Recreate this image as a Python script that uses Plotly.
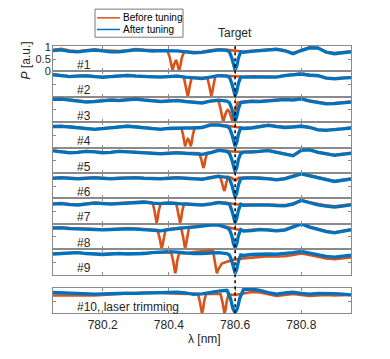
import plotly.graph_objects as go

# ---------------- data ----------------
WAVELENGTH = [780.05, 780.075, 780.10, 780.125, 780.15, 780.175, 780.20, 780.225, 780.25, 780.275,
              780.30, 780.325, 780.35, 780.375, 780.40, 780.425, 780.45, 780.475, 780.50, 780.525,
              780.55, 780.575, 780.60, 780.625, 780.65, 780.675, 780.70, 780.725, 780.75, 780.775,
              780.80, 780.825, 780.85, 780.875, 780.90, 780.925, 780.95]

LABELS = ["#1", "#2", "#3", "#4", "#5", "#6", "#7", "#8", "#9", "#10, laser trimming"]
TARGET = 780.6
X_TICKS = [780.2, 780.4, 780.6, 780.8]
Y_TICKS = [0, 0.5, 1]

# "After tuning" baselines (blue)
AFTER_1 = [0.85, 0.88, 0.82, 0.80, 0.84, 0.87, 0.84, 0.80, 0.80, 0.84, 0.88, 0.86, 0.83, 0.85, 0.86, 0.84, 0.80, 0.76, 0.78,
           0.84, 0.88, 0.86, 0.82, 0.78, 0.82, 0.85, 0.87, 0.90, 0.84, 0.72, 0.85, 0.96, 0.95, 0.78, 0.72, 0.76, 0.80]
AFTER_2 = [0.90, 0.86, 0.82, 0.84, 0.85, 0.82, 0.79, 0.82, 0.86, 0.87, 0.84, 0.81, 0.81, 0.80, 0.82, 0.84, 0.80, 0.76, 0.74,
           0.80, 0.86, 0.84, 0.80, 0.80, 0.82, 0.82, 0.80, 0.80, 0.86, 0.88, 0.93, 0.88, 0.86, 0.76, 0.73, 0.76, 0.78]
AFTER_3 = [0.93, 0.94, 0.90, 0.86, 0.82, 0.84, 0.88, 0.90, 0.88, 0.92, 0.94, 0.90, 0.86, 0.84, 0.86, 0.88, 0.84, 0.80, 0.78,
           0.86, 0.90, 0.86, 0.80, 0.82, 0.85, 0.84, 0.86, 0.90, 0.92, 0.90, 0.95, 0.86, 0.82, 0.75, 0.76, 0.80, 0.82]
AFTER_4 = [0.86, 0.87, 0.84, 0.80, 0.76, 0.74, 0.77, 0.80, 0.84, 0.87, 0.84, 0.80, 0.77, 0.74, 0.78, 0.80, 0.80, 0.80, 0.82,
           0.92, 0.92, 0.87, 0.82, 0.78, 0.80, 0.86, 0.91, 0.86, 0.82, 0.84, 0.87, 0.82, 0.72, 0.70, 0.72, 0.76, 0.80]
AFTER_5 = [0.90, 0.86, 0.82, 0.84, 0.88, 0.86, 0.82, 0.84, 0.88, 0.86, 0.84, 0.82, 0.80, 0.78, 0.80, 0.82, 0.80, 0.78, 0.76,
           0.82, 0.92, 0.88, 0.85, 0.85, 0.85, 0.88, 0.91, 0.84, 0.76, 0.70, 0.92, 0.94, 0.84, 0.78, 0.72, 0.76, 0.80]
AFTER_6 = [0.82, 0.84, 0.82, 0.80, 0.82, 0.84, 0.82, 0.80, 0.82, 0.84, 0.84, 0.82, 0.80, 0.80, 0.82, 0.84, 0.82, 0.80, 0.78,
           0.84, 0.90, 0.86, 0.82, 0.83, 0.84, 0.83, 0.80, 0.76, 0.80, 0.90, 1.00, 0.92, 0.84, 0.76, 0.69, 0.74, 0.79]
AFTER_7 = [0.80, 0.82, 0.78, 0.76, 0.80, 0.84, 0.82, 0.80, 0.82, 0.84, 0.86, 0.88, 0.84, 0.82, 0.84, 0.82, 0.80, 0.78, 0.76,
           0.80, 0.86, 0.82, 0.78, 0.75, 0.76, 0.77, 0.76, 0.74, 0.73, 0.80, 0.95, 0.86, 0.77, 0.72, 0.68, 0.72, 0.77]
AFTER_8 = [0.86, 0.87, 0.84, 0.82, 0.80, 0.80, 0.79, 0.80, 0.82, 0.83, 0.82, 0.80, 0.78, 0.75, 0.80, 0.85, 0.88, 0.90, 0.94,
           0.98, 0.98, 0.88, 0.80, 0.74, 0.76, 0.80, 0.78, 0.75, 0.78, 0.90, 1.03, 0.90, 0.80, 0.72, 0.67, 0.72, 0.79]
AFTER_9 = [0.84, 0.86, 0.88, 0.90, 0.86, 0.84, 0.82, 0.84, 0.86, 0.84, 0.84, 0.86, 0.90, 0.92, 0.94, 0.92, 0.88, 0.86, 0.86,
           0.88, 0.90, 0.86, 0.80, 0.78, 0.82, 0.84, 0.84, 0.83, 0.85, 0.90, 0.95, 0.88, 0.80, 0.74, 0.71, 0.75, 0.79]
AFTER_10 = [0.86, 0.84, 0.82, 0.80, 0.80, 0.79, 0.80, 0.82, 0.84, 0.83, 0.82, 0.83, 0.84, 0.84, 0.86, 0.87, 0.84, 0.78, 0.80,
            0.87, 0.92, 0.95, 0.90, 0.98, 1.00, 0.95, 0.86, 0.79, 0.84, 0.87, 0.82, 0.79, 0.82, 0.83, 0.81, 0.79, 0.76]

# "Before tuning" baselines (orange)
BEFORE_1 = [0.88, 0.92, 0.85, 0.82, 0.86, 0.90, 0.86, 0.83, 0.83, 0.86, 0.91, 0.88, 0.86, 0.87, 0.88, 0.86, 0.82, 0.79, 0.80,
            0.86, 0.90, 0.88, 0.85, 0.81, 0.84, 0.87, 0.89, 0.92, 0.86, 0.75, 0.87, 0.98, 0.97, 0.80, 0.75, 0.78, 0.82]
BEFORE_2 = [0.92, 0.88, 0.84, 0.86, 0.88, 0.84, 0.82, 0.84, 0.88, 0.89, 0.86, 0.84, 0.83, 0.82, 0.84, 0.86, 0.82, 0.79, 0.77,
            0.82, 0.88, 0.86, 0.83, 0.82, 0.84, 0.84, 0.82, 0.82, 0.88, 0.90, 0.95, 0.90, 0.88, 0.78, 0.75, 0.78, 0.80]
BEFORE_3 = [0.95, 0.96, 0.92, 0.88, 0.84, 0.86, 0.90, 0.92, 0.90, 0.94, 0.96, 0.92, 0.88, 0.86, 0.88, 0.90, 0.86, 0.82, 0.80,
            0.86, 0.90, 0.84, 0.78, 0.84, 0.87, 0.86, 0.88, 0.92, 0.94, 0.92, 0.97, 0.88, 0.84, 0.77, 0.78, 0.82, 0.84]
BEFORE_4 = [0.88, 0.89, 0.86, 0.82, 0.78, 0.76, 0.79, 0.82, 0.86, 0.89, 0.86, 0.82, 0.79, 0.76, 0.80, 0.82, 0.82, 0.82, 0.84,
            0.94, 0.94, 0.89, 0.84, 0.80, 0.82, 0.88, 0.93, 0.88, 0.84, 0.86, 0.89, 0.84, 0.74, 0.72, 0.74, 0.78, 0.82]
BEFORE_5 = [0.92, 0.88, 0.84, 0.86, 0.90, 0.88, 0.84, 0.86, 0.90, 0.88, 0.86, 0.84, 0.82, 0.80, 0.82, 0.84, 0.82, 0.80, 0.80,
            0.84, 0.94, 0.90, 0.87, 0.87, 0.87, 0.90, 0.93, 0.86, 0.78, 0.72, 0.94, 0.96, 0.86, 0.80, 0.74, 0.78, 0.82]
BEFORE_6 = [0.84, 0.86, 0.84, 0.82, 0.84, 0.86, 0.84, 0.82, 0.84, 0.86, 0.86, 0.84, 0.82, 0.82, 0.84, 0.86, 0.84, 0.82, 0.80,
            0.86, 0.92, 0.84, 0.84, 0.85, 0.86, 0.85, 0.82, 0.78, 0.82, 0.92, 1.02, 0.94, 0.86, 0.78, 0.71, 0.76, 0.81]
BEFORE_7 = [0.83, 0.85, 0.81, 0.79, 0.83, 0.87, 0.85, 0.83, 0.85, 0.87, 0.89, 0.91, 0.87, 0.85, 0.87, 0.85, 0.83, 0.81, 0.79,
            0.83, 0.89, 0.86, 0.80, 0.79, 0.80, 0.80, 0.79, 0.77, 0.76, 0.83, 0.97, 0.88, 0.80, 0.75, 0.71, 0.75, 0.80]
BEFORE_8 = [0.88, 0.89, 0.86, 0.84, 0.82, 0.82, 0.81, 0.82, 0.84, 0.85, 0.84, 0.82, 0.80, 0.78, 0.82, 0.87, 0.90, 0.92, 0.96,
            1.00, 1.00, 0.90, 0.82, 0.76, 0.78, 0.82, 0.80, 0.77, 0.80, 0.92, 1.04, 0.92, 0.82, 0.74, 0.69, 0.74, 0.81]
BEFORE_9 = [0.86, 0.88, 0.90, 0.90, 0.86, 0.84, 0.84, 0.86, 0.86, 0.84, 0.86, 0.88, 0.90, 0.90, 0.90, 0.90, 0.86, 0.92, 0.96,
            0.98, 0.70, 0.52, 0.62, 0.66, 0.70, 0.74, 0.75, 0.74, 0.75, 0.80, 0.86, 0.80, 0.72, 0.66, 0.63, 0.66, 0.70]
BEFORE_10 = [0.74, 0.74, 0.72, 0.72, 0.74, 0.74, 0.76, 0.78, 0.82, 0.84, 0.84, 0.86, 0.86, 0.84, 0.84, 0.82, 0.80, 0.82, 0.80,
             0.80, 0.80, 0.78, 0.76, 0.82, 0.88, 0.86, 0.80, 0.72, 0.76, 0.80, 0.76, 0.72, 0.74, 0.76, 0.74, 0.76, 0.76]

# resonance dips: (wavelengths, powers) read point by point
TARGET_DIP = ([780.583, 780.590, 780.595, 780.600, 780.605, 780.610, 780.617],
              [0.80, 0.55, 0.22, 0.05, 0.22, 0.55, 0.80])
AFTER_DIPS = [[TARGET_DIP]] * 9 + [[([780.576, 780.586, 780.593, 780.600, 780.607, 780.614, 780.624],
                                      [0.94, 0.62, 0.22, 0.02, 0.22, 0.62, 0.96])]]
BEFORE_DIPS = [
    [([780.396, 780.403, 780.407, 780.411, 780.415, 780.419, 780.421, 780.423, 780.427, 780.431, 780.435, 780.439, 780.446],
      [0.84, 0.55, 0.25, 0.03, 0.25, 0.42, 0.46, 0.42, 0.25, 0.03, 0.25, 0.55, 0.80])],
    [([780.445, 780.451, 780.454, 780.457, 780.460, 780.463, 780.469], [0.80, 0.45, 0.18, 0.02, 0.18, 0.45, 0.78]),
     ([780.516, 780.522, 780.525, 780.528, 780.531, 780.534, 780.540], [0.78, 0.45, 0.18, 0.03, 0.18, 0.45, 0.84])],
    [([780.550, 780.556, 780.560, 780.564, 780.568, 780.573, 780.578, 780.583, 780.588, 780.592, 780.596, 780.601, 780.607],
      [0.88, 0.55, 0.22, 0.02, 0.20, 0.42, 0.50, 0.42, 0.20, 0.02, 0.22, 0.55, 0.80])],
    [([780.438, 780.443, 780.446, 780.449, 780.452, 780.455, 780.457, 780.460, 780.463, 780.466, 780.469, 780.472, 780.478],
      [0.80, 0.50, 0.22, 0.05, 0.20, 0.32, 0.35, 0.32, 0.20, 0.05, 0.22, 0.50, 0.82])],
    [([780.492, 780.498, 780.501, 780.504, 780.507, 780.510, 780.516], [0.80, 0.55, 0.32, 0.20, 0.32, 0.55, 0.82])],
    [([780.555, 780.561, 780.564, 780.567, 780.570, 780.573, 780.579], [0.90, 0.62, 0.40, 0.30, 0.40, 0.62, 0.88]),
     ([780.590, 780.597, 780.603, 780.610], [0.84, 0.74, 0.74, 0.84])],
    [([780.351, 780.357, 780.360, 780.363, 780.366, 780.369, 780.375], [0.86, 0.50, 0.20, 0.03, 0.20, 0.50, 0.84]),
     ([780.422, 780.428, 780.431, 780.434, 780.437, 780.440, 780.446], [0.85, 0.50, 0.20, 0.03, 0.20, 0.50, 0.82])],
    [([780.366, 780.372, 780.375, 780.378, 780.381, 780.384, 780.390], [0.78, 0.45, 0.18, 0.02, 0.18, 0.45, 0.80]),
     ([780.437, 780.443, 780.446, 780.449, 780.452, 780.455, 780.461], [0.88, 0.50, 0.20, 0.02, 0.20, 0.50, 0.90])],
    [([780.407, 780.413, 780.416, 780.419, 780.422, 780.425, 780.431], [0.90, 0.55, 0.22, 0.05, 0.22, 0.55, 0.88]),
     ([780.533, 780.539, 780.542, 780.545, 780.548, 780.553, 780.560], [0.98, 0.55, 0.22, 0.05, 0.18, 0.32, 0.45])],
    [([780.488, 780.494, 780.497, 780.500, 780.503, 780.506, 780.512], [0.80, 0.45, 0.15, 0.00, 0.15, 0.45, 0.80]),
     ([780.556, 780.562, 780.565, 780.568, 780.571, 780.574, 780.580], [0.80, 0.45, 0.15, 0.00, 0.15, 0.45, 0.78])],
]

AFTER = [AFTER_1, AFTER_2, AFTER_3, AFTER_4, AFTER_5, AFTER_6, AFTER_7, AFTER_8, AFTER_9, AFTER_10]
BEFORE = [BEFORE_1, BEFORE_2, BEFORE_3, BEFORE_4, BEFORE_5, BEFORE_6, BEFORE_7, BEFORE_8, BEFORE_9, BEFORE_10]

# ---------------- styling / layout ----------------
# the page body has an 8px margin, so the figure is 8px smaller and all
# positions below are given in window pixels and shifted by that margin
OFF = 8
FW, FH = 390 - OFF, 359 - OFF
ORANGE = "#D95319"
BLUE = "#0072BD"
AXCOL = "#8a8a8a"
TXT = "#262626"
FONT = "Liberation Sans, Arial, sans-serif"
LEFT, RIGHT = 53, 351
PH = 26.22
TOPS = [42 + PH * i for i in range(9)] + [292]


def px(x):
    return (x - OFF) / FW


def py(y):
    return 1 - (y - OFF) / FH


def merge(base, dips):
    spans = [(min(dx), max(dx)) for dx, _ in dips]
    pts = [(x, y) for x, y in zip(WAVELENGTH, base) if not any(lo <= x <= hi for lo, hi in spans)]
    for dx, dy in dips:
        pts += list(zip(dx, dy))
    pts.sort()
    return [p[0] for p in pts], [p[1] for p in pts]


fig = go.Figure()
for k in range(10):
    ax = "" if k == 0 else str(k + 1)
    bx, by = merge(BEFORE[k], BEFORE_DIPS[k])
    fig.add_trace(go.Scatter(x=bx, y=by, mode="lines", name="Before tuning", showlegend=False,
                             line=dict(color=ORANGE, width=2.6), xaxis="x" + ax, yaxis="y" + ax))
    axx, axy = merge(AFTER[k], AFTER_DIPS[k])
    fig.add_trace(go.Scatter(x=axx, y=axy, mode="lines", name="After tuning", showlegend=False,
                             line=dict(color=BLUE, width=3.3), xaxis="x" + ax, yaxis="y" + ax))

layout = dict(width=FW, height=FH, margin=dict(l=0, r=0, t=0, b=0), paper_bgcolor="white",
              plot_bgcolor="white", font=dict(family=FONT, size=12, color=TXT), showlegend=False)
for k in range(10):
    ax = "" if k == 0 else str(k + 1)
    top, bot = TOPS[k], TOPS[k] + PH
    layout["xaxis" + ax] = dict(domain=[px(LEFT), px(RIGHT)], range=[780.05, 780.95], anchor="y" + ax,
                                showline=True, mirror="ticks", linecolor=AXCOL, linewidth=1,
                                ticks="inside", ticklen=3, tickcolor=AXCOL, tickvals=X_TICKS,
                                ticktext=[f"{v:.1f}" for v in X_TICKS], showticklabels=(k == 9),
                                showgrid=False, zeroline=False, tickfont=dict(size=12, color=TXT))
    layout["yaxis" + ax] = dict(domain=[py(bot), py(top)], range=[0, 1.04], anchor="x" + ax,
                                showline=True, mirror="ticks", linecolor=AXCOL, linewidth=1,
                                ticks="inside", ticklen=3, tickcolor=AXCOL, tickvals=Y_TICKS,
                                ticktext=["0", "0.5", "1"], showticklabels=(k == 0),
                                ticklabelstandoff=-1,
                                showgrid=False, zeroline=False, tickfont=dict(size=11, color=TXT))
fig.update_layout(**layout)

ann = []
for k in range(10):
    ann.append(dict(text=LABELS[k], x=px(75), y=py(TOPS[k] + PH - 6.5), xref="paper", yref="paper",
                    xanchor="left", yanchor="middle", showarrow=False, font=dict(size=12, color=TXT)))
ann.append(dict(text="Target", x=TARGET, xref="x", y=py(29), yref="paper", showarrow=False,
                xanchor="center", yanchor="middle", font=dict(size=12, color=TXT)))
ann.append(dict(text="λ [nm]", x=px(204), y=py(345), xref="paper", yref="paper", showarrow=False,
                xanchor="center", yanchor="middle", font=dict(size=12, color=TXT)))
ann.append(dict(text="<i>P</i> [a.u.]", x=px(26), y=py(57), xref="paper", yref="paper", showarrow=False,
                textangle=-90, xanchor="center", yanchor="middle", font=dict(size=12, color=TXT)))
# legend texts
ann.append(dict(text="Before tuning", x=px(121), y=py(13), xref="paper", yref="paper", showarrow=False,
                xanchor="left", yanchor="middle", font=dict(size=10, color="black")))
ann.append(dict(text="After tuning", x=px(121), y=py(25), xref="paper", yref="paper", showarrow=False,
                xanchor="left", yanchor="middle", font=dict(size=10, color="black")))

shapes = [
    dict(type="rect", xref="paper", yref="paper", x0=px(95), x1=px(183), y0=py(33), y1=py(4),
         line=dict(color="#7a7a7a", width=1), fillcolor="white", layer="above"),
    dict(type="line", xref="paper", yref="paper", x0=px(97), x1=px(120), y0=py(13), y1=py(13),
         line=dict(color=ORANGE, width=1.5), layer="above"),
    dict(type="line", xref="paper", yref="paper", x0=px(97), x1=px(120), y0=py(25), y1=py(25),
         line=dict(color=BLUE, width=1.5), layer="above"),
    dict(type="line", xref="x", yref="paper", x0=TARGET, x1=TARGET, y0=py(318), y1=py(42),
         line=dict(color="black", width=1.5, dash="dot"), layer="above"),
]
fig.update_layout(annotations=ann, shapes=shapes)
fig.write_html("out.html")
